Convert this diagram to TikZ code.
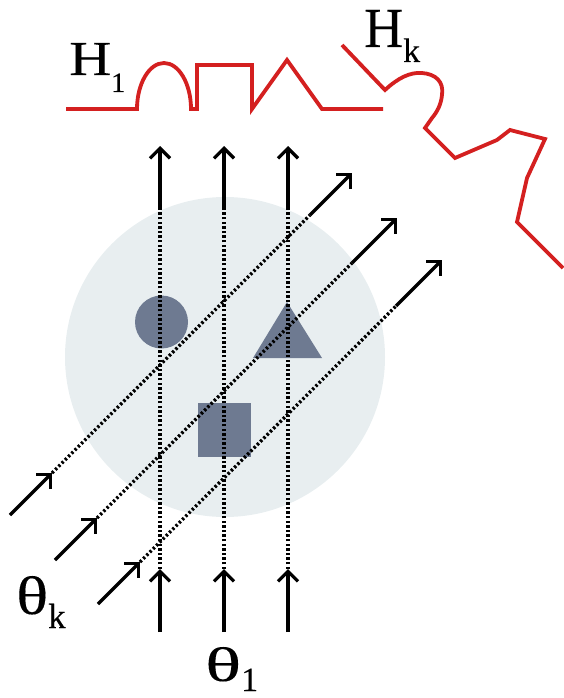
\documentclass[tikz,border=0pt]{standalone}
\usepackage{fontspec}
\setmainfont{Liberation Serif}
\newfontfamily\lblfont{Liberation Serif}[FakeBold=0.15]
\usetikzlibrary{arrows.meta}
\definecolor{diskfill}{RGB}{232,238,240}
\definecolor{slate}{RGB}{110,122,145}
\definecolor{profred}{RGB}{212,32,32}
\tikzset{
  ray/.style={line width=3.3pt, black, -{Straight Barb[length=10pt,width=20pt]}},
  dots/.style={line width=3.4pt, black, dash pattern=on 2.4pt off 2.2pt},
  profile/.style={line width=3.8pt, profred, line join=miter},
  objshape/.style={fill=slate, draw=none},
  lbl/.style={inner sep=0pt, anchor=base west, font=\lblfont}
}
\begin{document}
\begin{tikzpicture}[x=1pt,y=-1pt]
\useasboundingbox (0,0) rectangle (563,698);
% disk
\fill[diskfill] (225,357) circle (160);
% objects
\fill[objshape] (161.5,322) circle (26.5);
\fill[objshape] (287,302) -- (322,358) -- (253,358) -- cycle;
\fill[objshape] (198,403) rectangle (251,457);
% vertical rays
\foreach \x/\n in {160/a,224/b,288/c}{
  \coordinate (vb\n) at (\x,632);
  \coordinate (vl\n) at (\x,569);
  \coordinate (vu\n) at (\x,209);
  \coordinate (vt\n) at (\x,146);
  \draw[dots] (vl\n) -- (vu\n);
  \draw[ray] (vb\n) -- (vl\n);
  \draw[ray] (vu\n) -- (vt\n);
}
% diagonal rays
\foreach \n/\ax/\ay/\bx/\by/\cx/\cy/\dx/\dy in {
  a/10/515/52/473/310/215/352/173,
  b/55/560/97/518/352/263/397/218,
  c/98/604/140/562/396/306/442/260}{
  \coordinate (db\n) at (\ax,\ay);
  \coordinate (dl\n) at (\bx,\by);
  \coordinate (du\n) at (\cx,\cy);
  \coordinate (dt\n) at (\dx,\dy);
  \draw[dots] (dl\n) -- (du\n);
  \draw[ray] (db\n) -- (dl\n);
  \draw[ray] (du\n) -- (dt\n);
}
% profile H1
\draw[profile] (66,109) -- (137,109)
  .. controls (137,84) and (149,63) .. (164,63)
  .. controls (179,63) and (191,84) .. (191,109)
  -- (197,109) -- (197,65) -- (252,65) -- (252,109)
  -- (287,60) -- (322,109) -- (383,109);
% profile Hk
\draw[profile] (342,45) -- (385,90)
  .. controls (398,78) and (410,72) .. (422,73)
  .. controls (436,74) and (444,82) .. (442,95)
  .. controls (441,105) and (437,112) .. (432,118)
  -- (425,128) -- (455,158) -- (497,140) -- (510,130)
  -- (545,139) -- (527,178) -- (517,222) -- (563,268);
% labels
\node[lbl] (h1) at (69,75) {\resizebox{42pt}{32pt}{H}\raisebox{-17pt}{\fontsize{28}{28}\selectfont 1}};
\node[lbl] (hk) at (364,47) {\resizebox{39pt}{37pt}{H}\raisebox{-15pt}{\fontsize{34}{34}\selectfont k}};
\node[lbl] (tk) at (16,614) {\resizebox{32pt}{38pt}{θ}\raisebox{-14pt}{\fontsize{35}{35}\selectfont k}};
\node[lbl] (t1) at (205,681) {\resizebox{36pt}{34pt}{θ}\raisebox{-10pt}{\fontsize{34}{34}\selectfont 1}};
\end{tikzpicture}
\end{document}
